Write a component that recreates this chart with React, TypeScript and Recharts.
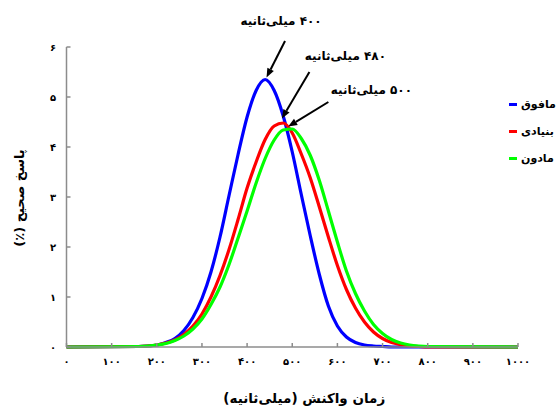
import { LineChart, Line, XAxis, YAxis, Legend, ReferenceLine } from 'recharts';

const FONT = '"DejaVu Sans", sans-serif';

// reaction time (ms) grid the curves were read at
const reactionTimes = [
  0, 160, 180, 200, 220, 240, 260, 280, 300, 320, 340, 360, 380, 400, 420, 440, 460, 480,
  500, 520, 540, 560, 580, 600, 620, 640, 660, 680, 700, 720, 740, 760, 780, 800, 1000,
];
// percent correct, per group
const superiorValues = [
  0, 0.01, 0.02, 0.04, 0.09, 0.17, 0.33, 0.59, 0.97, 1.5, 2.2, 3.03, 3.85, 4.6, 5.13, 5.35, 5.13, 4.62,
  3.9, 3.05, 2.22, 1.45, 0.82, 0.42, 0.2, 0.09, 0.04, 0.02, 0.01, 0, 0, 0, 0, 0, 0,
];
const baselineValues = [
  0, 0.01, 0.02, 0.04, 0.08, 0.14, 0.25, 0.42, 0.66, 1.0, 1.43, 1.95, 2.55, 3.18, 3.7, 4.15, 4.42, 4.48,
  4.28, 3.86, 3.38, 2.8, 2.2, 1.63, 1.15, 0.78, 0.5, 0.3, 0.17, 0.09, 0.05, 0.02, 0.01, 0, 0,
];
const inferiorValues = [
  0, 0.01, 0.02, 0.04, 0.07, 0.13, 0.22, 0.36, 0.56, 0.85, 1.2, 1.65, 2.18, 2.72, 3.28, 3.77, 4.14, 4.34,
  4.36, 4.17, 3.83, 3.33, 2.72, 2.1, 1.52, 1.07, 0.72, 0.45, 0.27, 0.15, 0.08, 0.04, 0.02, 0.01, 0,
];

const seriesNames = ['مافوق', 'بنیادی', 'مادون'];
const seriesColors = ['#0000ff', '#ff0000', '#00ff00'];

const xTicks = [0, 100, 200, 300, 400, 500, 600, 700, 800, 900, 1000];
const xTickLabels = ['۰', '۱۰۰', '۲۰۰', '۳۰۰', '۴۰۰', '۵۰۰', '۶۰۰', '۷۰۰', '۸۰۰', '۹۰۰', '۱۰۰۰'];
const yTicks = [0, 1, 2, 3, 4, 5, 6];
const yTickLabels = ['۰', '۱', '۲', '۳', '۴', '۵', '۶'];

const xTitle = 'زمان واکنش (میلی‌ثانیه)';
const yTitle = 'پاسخ صحیح (٪)';

// peak annotations: text, arrow tail and arrow tip in data units
const peakLabels = ['۴۰۰ میلی‌ثانیه', '۴۸۰ میلی‌ثانیه', '۵۰۰ میلی‌ثانیه'];
const arrowTails = [
  { x: 484, y: 6.12 },
  { x: 538, y: 5.5 },
  { x: 580, y: 4.9 },
];
const arrowTips = [
  { x: 443, y: 5.39 },
  { x: 477, y: 4.57 },
  { x: 491, y: 4.41 },
];
const labelShift = [
  [-4, -20],
  [36, -16],
  [43, -12],
];

const data = reactionTimes.map((rt, i) => ({
  rt,
  superior: superiorValues[i],
  baseline: baselineValues[i],
  inferior: inferiorValues[i],
}));

function arrowShape(label: string, dx: number, dy: number) {
  return (p: any) => {
    const x1 = Number(p.x1);
    const y1 = Number(p.y1);
    const x2 = Number(p.x2);
    const y2 = Number(p.y2);
    const len = Math.hypot(x2 - x1, y2 - y1) || 1;
    const ux = (x2 - x1) / len;
    const uy = (y2 - y1) / len;
    const head = 9;
    const half = 3.6;
    const bx = x2 - ux * head;
    const by = y2 - uy * head;
    const pts = `${x2},${y2} ${bx - uy * half},${by + ux * half} ${bx + uy * half},${by - ux * half}`;
    return (
      <g>
        <line x1={x1} y1={y1} x2={bx} y2={by} stroke="#000" strokeWidth={2} />
        <polygon points={pts} fill="#000" />
        <text
          x={x1 + dx}
          y={y1 + dy}
          textAnchor="middle"
          dominantBaseline="middle"
          style={{ direction: 'rtl', fontFamily: FONT, fontSize: 12, fontWeight: 700 }}
          fill="#000"
        >
          {label}
        </text>
      </g>
    );
  };
}

function renderLegend(props: any) {
  const items = [...(props.payload || [])].sort(
    (a: any, b: any) => seriesNames.indexOf(a.value) - seriesNames.indexOf(b.value),
  );
  return (
    <div style={{ fontFamily: FONT, fontSize: 11, fontWeight: 700 }}>
      {items.map((it: any) => (
        <div key={it.value} style={{ display: 'flex', alignItems: 'center', height: 27 }}>
          <span style={{ width: 8, height: 3, background: it.color, marginRight: 4 }} />
          <span style={{ direction: 'rtl' }}>{it.value}</span>
        </div>
      ))}
    </div>
  );
}

function renderYTitle(props: any) {
  const vb = props.viewBox;
  const cx = vb.x + 14;
  const cy = vb.y + vb.height / 2 + 1;
  return (
    <text
      x={cx}
      y={cy}
      transform={`rotate(-90 ${cx} ${cy})`}
      textAnchor="middle"
      dominantBaseline="middle"
      style={{ direction: 'rtl', fontFamily: FONT, fontSize: 13, fontWeight: 700 }}
      fill="#000"
    >
      {yTitle}
    </text>
  );
}

function renderXTitle(props: any) {
  const vb = props.viewBox;
  const cx = vb.x + vb.width / 2 + 12;
  const cy = vb.y + 52;
  return (
    <text
      x={cx}
      y={cy}
      textAnchor="middle"
      dominantBaseline="middle"
      style={{ direction: 'rtl', fontFamily: FONT, fontSize: 13.5, fontWeight: 700 }}
      fill="#000"
    >
      {xTitle}
    </text>
  );
}

const tickStyle = { fill: '#000', fontSize: 10, fontWeight: 700, fontFamily: FONT };

export default function App() {
  return (
    <div style={{ width: 559, height: 418, background: '#fff' }}>
      <style>{'body{margin:0;}'}</style>
      <LineChart width={559} height={418} data={data} margin={{ top: 47, right: 41, bottom: 11, left: 6.5 }}>
        <XAxis
          dataKey="rt"
          type="number"
          domain={[0, 1000]}
          ticks={xTicks}
          interval={0}
          tickFormatter={(v: number) => xTickLabels[xTicks.indexOf(v)]}
          tick={tickStyle}
          stroke="#8c8c8c"
          strokeWidth={1.5}
          tickSize={-4}
          tickMargin={15}
          height={60}
          label={{ content: renderXTitle }}
        />
        <YAxis
          type="number"
          domain={[0, 6]}
          ticks={yTicks}
          interval={0}
          tickFormatter={(v: number) => yTickLabels[yTicks.indexOf(v)]}
          tick={tickStyle}
          stroke="#8c8c8c"
          strokeWidth={1.5}
          tickSize={-4}
          tickMargin={14.5}
          width={60}
          label={{ content: renderYTitle }}
        />
        <Legend
          layout="vertical"
          align="center"
          verticalAlign="middle"
          wrapperStyle={{ left: 509, top: 91, width: 50 }}
          content={renderLegend}
        />
        <Line
          type="monotone"
          dataKey="superior"
          name={seriesNames[0]}
          stroke={seriesColors[0]}
          strokeWidth={3.2}
          dot={false}
          isAnimationActive={false}
        />
        <Line
          type="monotone"
          dataKey="baseline"
          name={seriesNames[1]}
          stroke={seriesColors[1]}
          strokeWidth={3.2}
          dot={false}
          isAnimationActive={false}
        />
        <Line
          type="monotone"
          dataKey="inferior"
          name={seriesNames[2]}
          stroke={seriesColors[2]}
          strokeWidth={3.2}
          dot={false}
          isAnimationActive={false}
        />
        {peakLabels.map((label, i) => (
          <ReferenceLine
            key={label}
            segment={[arrowTails[i], arrowTips[i]]}
            ifOverflow="visible"
            shape={arrowShape(label, labelShift[i][0], labelShift[i][1])}
          />
        ))}
      </LineChart>
    </div>
  );
}
